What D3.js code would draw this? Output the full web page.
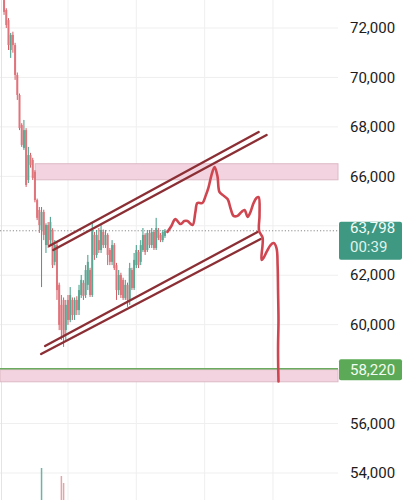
<!DOCTYPE html>
<html><head><meta charset="utf-8">
<script src="https://cdn.jsdelivr.net/npm/d3@7"></script>
<style>html,body{margin:0;padding:0;background:#fff;overflow:hidden}svg{display:block;font-family:Roboto,"Noto Sans",sans-serif}</style>
</head><body>
<svg id="c" width="416" height="500"></svg>
<script>
// ---- data ----
const opens  = [73130,72730,72320,71110,71720,71310,70100,69290,68080,67150,67870,65850,66860,66660,66180,65040,64640,63830,64560,63220,64030,63420,63830,62540,63220,61610,60800,61000,59780,61000,60190,61000,60390,61000,60590,61200,61690,61200,61610,62210,61200,63630,62820,63420,63020,63750,63220,63630,63020,62540,63220,62410,61400,62010,61810,61080,61610,61000,62210,61480,62410,62940,62540,63020,63630,63020,63710,63220,63750,63100,63830,63630,63420,63590];
const highs  = [73200,72800,72400,71800,71850,71400,70200,69350,68150,68280,67950,67190,66950,66750,66250,65100,64760,64760,64650,64100,64150,64360,63900,63420,63300,61700,61200,61100,61000,61200,61520,61100,61100,61150,61610,62010,61800,62410,62820,62300,64110,63750,63830,63910,64030,63850,63830,63700,63100,63420,63300,62500,62210,62100,61900,61810,61700,62500,62300,62900,63220,63020,63420,63910,63700,63830,63830,63910,63830,64320,63910,63710,63830,63870];
const lows   = [72530,72000,71110,70790,71000,69900,69090,67870,67190,67070,65570,65730,66350,65850,64950,64230,63710,61520,63420,62900,63100,63220,62290,62400,61000,59780,59380,59100,59380,59990,60100,60190,60190,60390,60390,61080,61000,61080,61400,61120,61120,62620,62700,62900,62900,63100,63100,62410,62410,62410,62210,61000,61200,61080,61000,61000,60720,60800,61400,61400,62290,62290,62410,62940,62820,62940,63100,63100,63020,63020,63420,63340,63340,63510];
const closes = [72650,72120,71310,71720,71310,70100,69290,67950,67270,67870,65650,66860,66460,65930,65040,64320,64030,64560,63630,64030,63220,64150,62410,63220,61400,59990,59780,59580,60800,60190,61200,60390,61000,60590,61400,61810,61160,62210,62540,61200,63830,62820,63630,63020,63830,63220,63630,62820,62540,63220,62290,61400,62010,61200,61080,61610,61000,62290,61480,62620,63020,62410,63220,63630,62940,63710,63220,63750,63100,63910,63510,63420,63750,63798];
const volumes = [8,9,10,7,8,12,10,14,9,8,15,9,6,8,12,10,11,52,14,9,10,8,12,9,16,18,44,37,15,10,9,8,7,8,10,9,8,11,9,8,17,9,8,7,8,7,6,8,7,6,7,10,8,7,7,6,8,9,7,8,7,6,7,8,6,7,6,6,6,8,5,5,5,4];
const priceTicks = [54000,56000,58000,60000,62000,64000,66000,68000,70000,72000];
const timeGrid = [29,60,91,122];
const lastPrice = 63798, lastTimer = "00:39";
const supportPrice = 58220;
const upperZone = [65860,66510], upperZoneStart = 14.1;
const lowerZone = [57690,58180];
const upperChannel = [[[20.5,63182],[115.5,67794]],[[22.3,63020],[119.1,67672]]];
const lowerChannel = [[[18.6,59137],[115,63749]],[[16.8,58814],[116.4,63466]]];
const projection = [[74.1,63749],[75.9,63990],[77.7,64270],[80,64070],[81.8,64190],[83.2,64190],[85.5,64030],[86.8,64560],[87.7,64920],[90,64920],[91.4,65200],[92.7,65530],[94.1,66050],[95.5,66380],[96.8,66010],[97.7,65370],[99.1,65250],[101.4,65080],[102.7,64720],[104.1,64400],[105.9,64400],[107.7,64560],[109.1,64640],[110.5,64360],[111.8,64560],[113.2,64920],[114.5,65120],[115.5,65160],[115.9,64440],[115.7,63790],[117.3,63510],[116.8,62620],[117.7,62700],[119.1,62940],[120.9,63220],[122.3,63300],[123.6,63100],[124.1,62410],[124.3,61400],[124.5,60190],[124.3,59000],[124.5,57700]];

// ---- scales ----
const W = 338;
const x = d3.scaleLinear().domain([-1.85,151.5]).range([0,W]);
const y = d3.scaleLinear().domain([54000,72000]).range([473,28]);
const yv = d3.scaleLinear().domain([0,100]).range([520,420]);
const svg = d3.select("#c");
const idx = d3.range(opens.length);

// grid
svg.append("g").selectAll("line").data(priceTicks).join("line")
  .attr("x1",0).attr("x2",W).attr("y1",d=>y(d)).attr("y2",d=>y(d))
  .attr("stroke","#efefef").attr("stroke-width",1);
svg.append("g").selectAll("line").data(timeGrid).join("line")
  .attr("x1",d=>x(d)).attr("x2",d=>x(d)).attr("y1",0).attr("y2",500)
  .attr("stroke","#efefef").attr("stroke-width",1);
svg.append("line").attr("x1",1.5).attr("x2",1.5).attr("y1",0).attr("y2",500).attr("stroke","#e4e4e4");

// zones
svg.append("rect").attr("x",x(upperZoneStart)).attr("width",W-x(upperZoneStart))
  .attr("y",y(upperZone[1])).attr("height",y(upperZone[0])-y(upperZone[1]))
  .attr("fill","#f3d3df").attr("stroke","#dcb9c6").attr("stroke-width",1);
svg.append("rect").attr("x",0).attr("width",W)
  .attr("y",y(lowerZone[1])).attr("height",y(lowerZone[0])-y(lowerZone[1]))
  .attr("fill","#f3d3df").attr("stroke","#dcb9c6").attr("stroke-width",1);
svg.append("line").attr("x1",0).attr("x2",W).attr("y1",y(supportPrice)).attr("y2",y(supportPrice))
  .attr("stroke","#6aab5f").attr("stroke-width",1.5);

// last price dotted line
svg.append("line").attr("x1",0).attr("x2",W).attr("y1",y(lastPrice)).attr("y2",y(lastPrice))
  .attr("stroke","#8a8a8a").attr("stroke-width",1).attr("stroke-dasharray","1.2,2");

// volume
const up = i => closes[i] >= opens[i];
svg.append("g").selectAll("rect").data(idx).join("rect")
  .attr("x",i=>x(i)-0.75).attr("width",1.5)
  .attr("y",i=>yv(volumes[i])).attr("height",i=>Math.max(0,520-yv(volumes[i])))
  .attr("fill",i=>up(i)?"#6fb3a6":"#e6a3a8");

// candles
const cg = svg.append("g");
cg.selectAll("line").data(idx).join("line")
  .attr("x1",i=>x(i)).attr("x2",i=>x(i)).attr("y1",i=>y(highs[i])).attr("y2",i=>y(lows[i]))
  .attr("stroke",i=>up(i)?"#3f9b86":"#d55c64").attr("stroke-width",1);
cg.selectAll("rect").data(idx).join("rect")
  .attr("x",i=>x(i)-1).attr("width",2)
  .attr("y",i=>y(Math.max(opens[i],closes[i])))
  .attr("height",i=>Math.max(1,Math.abs(y(opens[i])-y(closes[i]))))
  .attr("fill",i=>up(i)?"#5aa893":"#e0747b");

// channels
const lineGen = d3.line().x(d=>x(d[0])).y(d=>y(d[1]));
svg.append("g").selectAll("path").data(upperChannel.concat(lowerChannel)).join("path")
  .attr("d",lineGen).attr("fill","none").attr("stroke","#8c2f35").attr("stroke-width",2.4).attr("stroke-linecap","round");

// projection curve
svg.append("path").datum(projection)
  .attr("d",d3.line().x(d=>x(d[0])).y(d=>y(d[1])).curve(d3.curveCatmullRom.alpha(0.5)))
  .attr("fill","none").attr("stroke","#cf4650").attr("stroke-width",2.6)
  .attr("stroke-linejoin","round").attr("stroke-linecap","round");

// axis labels (those hidden behind the price boxes are left out, as in the reference)
const fmt = d3.format(",");
const ly = y(lastPrice), sy = y(supportPrice);
const boxes = [[ly-9, ly+29],[sy-9.5, sy+11.5]];
const visibleTicks = priceTicks.filter(d => !boxes.some(b => y(d)+6 > b[0] && y(d)-6 < b[1]));
svg.append("g").selectAll("text").data(visibleTicks).join("text")
  .attr("x",350).attr("y",d=>y(d)).attr("dy","0.35em")
  .attr("font-size",15).attr("fill","#1c1c1c").text(d=>fmt(d));

// last price box
svg.append("rect").attr("x",339).attr("y",ly-9).attr("width",63).attr("height",38).attr("rx",2).attr("fill","#3f9882");
svg.append("text").attr("x",350).attr("y",ly+2.5).attr("font-size",15).attr("fill","#f2fbf7").text(fmt(lastPrice));
svg.append("text").attr("x",350).attr("y",ly+21).attr("font-size",15).attr("fill","#dff3ec").text(lastTimer);

// support box
svg.append("rect").attr("x",339).attr("y",sy-9.5).attr("width",63).attr("height",21).attr("rx",2).attr("fill","#5caa57");
svg.append("text").attr("x",350).attr("y",sy+1).attr("dy","0.35em").attr("font-size",15).attr("fill","#f4fbf2").text(fmt(supportPrice));
</script>
</body></html>
